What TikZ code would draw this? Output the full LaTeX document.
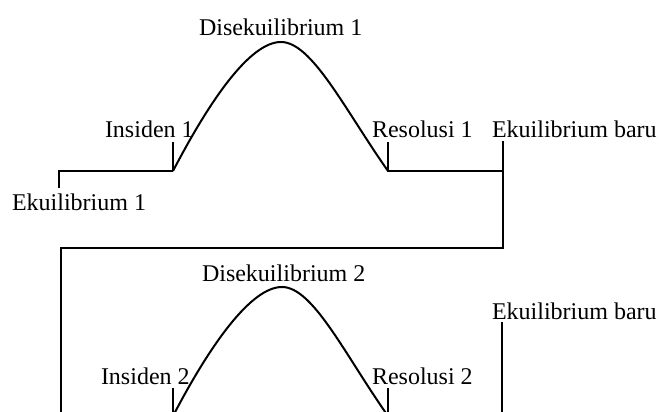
\documentclass[tikz,border=0pt]{standalone}
\usepackage{fontspec}
\setmainfont{Liberation Serif}
\begin{document}
\begin{tikzpicture}[x=0.5bp,y=-0.5bp,line width=1bp,
  lbl/.style={anchor=base west,inner sep=0pt,font=\fontsize{12bp}{14bp}\selectfont}]
\useasboundingbox (0,0) rectangle (659,412);
\clip (0,0) rectangle (659,412);

\node[lbl] (dis1) at (198,36) {Disekuilibrium 1};
\node[lbl] (ins1) at (104,138) {Insiden 1};
\node[lbl] (res1) at (371,138) {Resolusi 1};
\node[lbl] (baru1) at (491,138) {Ekuilibrium baru};
\node[lbl] (eku1) at (11,211) {Ekuilibrium 1};

\node[lbl] (dis2) at (201,282) {Disekuilibrium 2};
\node[lbl] (ins2) at (100,385) {Insiden 2};
\node[lbl] (res2) at (371,385) {Resolusi 2};
\node[lbl] (baru2) at (491,320) {Ekuilibrium baru};

% first cycle
\coordinate (e1) at (59,188);
\coordinate (e1b) at (59,171);
\coordinate (i1) at (173,171);
\coordinate (i1t) at (173,142);
\coordinate (p1) at (281,42);
\coordinate (r1) at (388,171);
\coordinate (r1t) at (388,142);
\coordinate (n1) at (503,171);
\coordinate (n1t) at (503,141);
\coordinate (n1b) at (503,248);
\coordinate (s2) at (61,248);

% second cycle
\coordinate (e2) at (61,416);
\coordinate (i2) at (173,416);
\coordinate (i2t) at (173,388);
\coordinate (p2) at (282,287);
\coordinate (r2) at (388,416);
\coordinate (r2t) at (388,388);
\coordinate (n2) at (502,416);
\coordinate (n2t) at (502,322);

\draw (e1) -- (e1b) -- (i1);
\draw (i1t) -- (i1);
\draw (i1) .. controls +(37,-71) and +(-31,0) .. (p1)
           .. controls +(31,0) and +(-43,-61) .. (r1);
\draw (r1t) -- (r1) -- (n1);
\draw (n1t) -- (n1b) -- (s2) -- (e2) -- (i2);

\draw (i2t) -- (i2);
\draw (i2) .. controls +(37,-71) and +(-31,0) .. (p2)
           .. controls +(31,0) and +(-43,-61) .. (r2);
\draw (r2t) -- (r2) -- (n2);
\draw (n2t) -- (n2);
\end{tikzpicture}
\end{document}
